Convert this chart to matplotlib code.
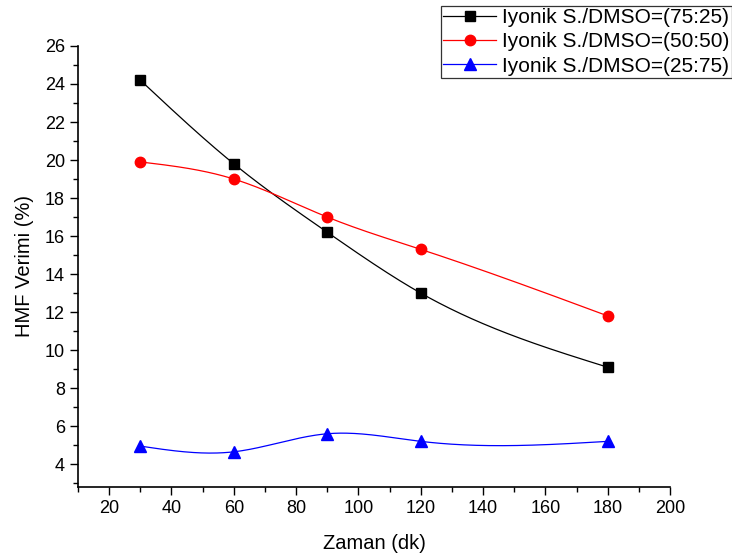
import numpy as np
import matplotlib
matplotlib.use("Agg")
import matplotlib.pyplot as plt
from matplotlib.ticker import MultipleLocator

plt.rcParams['font.family'] = ['Liberation Sans', 'DejaVu Sans']

time_min = [30, 60, 90, 120, 180]
yield_75_25 = [24.2, 19.8, 16.2, 13.0, 9.1]
yield_50_50 = [19.9, 19.0, 17.0, 15.3, 11.8]
yield_25_75 = [4.95, 4.65, 5.6, 5.2, 5.2]
labels = ["Iyonik S./DMSO=(75:25)", "Iyonik S./DMSO=(50:50)", "Iyonik S./DMSO=(25:75)"]
colors = ["black", "red", "blue"]
markers = ["s", "o", "^"]


def natural_spline(x, y, n=300):
    x = np.asarray(x, float); y = np.asarray(y, float)
    k = len(x); h = np.diff(x)
    A = np.zeros((k, k)); b = np.zeros(k)
    A[0, 0] = A[-1, -1] = 1
    for i in range(1, k - 1):
        A[i, i - 1] = h[i - 1]; A[i, i] = 2 * (h[i - 1] + h[i]); A[i, i + 1] = h[i]
        b[i] = 6 * ((y[i + 1] - y[i]) / h[i] - (y[i] - y[i - 1]) / h[i - 1])
    M = np.linalg.solve(A, b)
    xs = np.linspace(x[0], x[-1], n); ys = np.empty_like(xs)
    for j, xv in enumerate(xs):
        i = min(np.searchsorted(x, xv, side='right') - 1, k - 2)
        t0 = x[i + 1] - xv; t1 = xv - x[i]
        ys[j] = (M[i] * t0**3 + M[i + 1] * t1**3) / (6 * h[i]) + \
                (y[i] / h[i] - M[i] * h[i] / 6) * t0 + (y[i + 1] / h[i] - M[i + 1] * h[i] / 6) * t1
    return xs, ys


fig = plt.figure(figsize=(7.32, 5.6), dpi=100)
ax = fig.add_axes([0.1066, 0.1304, 0.8087, 0.7875])

handles = []
for ys, c, m, lab in zip([yield_75_25, yield_50_50, yield_25_75], colors, markers, labels):
    sx, sy = natural_spline(time_min, ys)
    ax.plot(sx, sy, color=c, lw=0.9)
    ms = {'s': 6.5, 'o': 7.5, '^': 8}[m]
    ax.plot(time_min, ys, linestyle='none', marker=m, color=c, markersize=ms)
    h, = ax.plot([], [], color=c, lw=0.9, marker=m, markersize=ms, label=lab)
    handles.append(h)

ax.set_xlim(10, 200)
ax.set_ylim(2.8, 26)
ax.xaxis.set_major_locator(MultipleLocator(20))
ax.xaxis.set_minor_locator(MultipleLocator(10))
ax.yaxis.set_major_locator(MultipleLocator(2))
ax.yaxis.set_minor_locator(MultipleLocator(1))
ax.set_xticks([20, 40, 60, 80, 100, 120, 140, 160, 180, 200])
ax.set_yticks([4, 6, 8, 10, 12, 14, 16, 18, 20, 22, 24, 26])
ax.tick_params(which='major', direction='out', length=6, width=1, labelsize=13)
ax.tick_params(which='minor', direction='out', length=3.5, width=1)
for s in ['top', 'right']:
    ax.spines[s].set_visible(False)
for s in ['left', 'bottom']:
    ax.spines[s].set_linewidth(1.2)

ax.set_xlabel("Zaman (dk)", fontsize=14.5, labelpad=12)
ax.set_ylabel("HMF Verimi (%)", fontsize=14.5, labelpad=8)

leg = fig.legend(handles=handles, loc='lower left', bbox_to_anchor=(441 / 732, 1 - 78 / 560),
                 fontsize=15, frameon=True, fancybox=False, edgecolor='black',
                 handlelength=2.5, borderpad=0.12, labelspacing=0.25, handletextpad=0.3,
                 borderaxespad=0)
leg.get_frame().set_linewidth(0.9)

fig.savefig("out.png", dpi=100)
